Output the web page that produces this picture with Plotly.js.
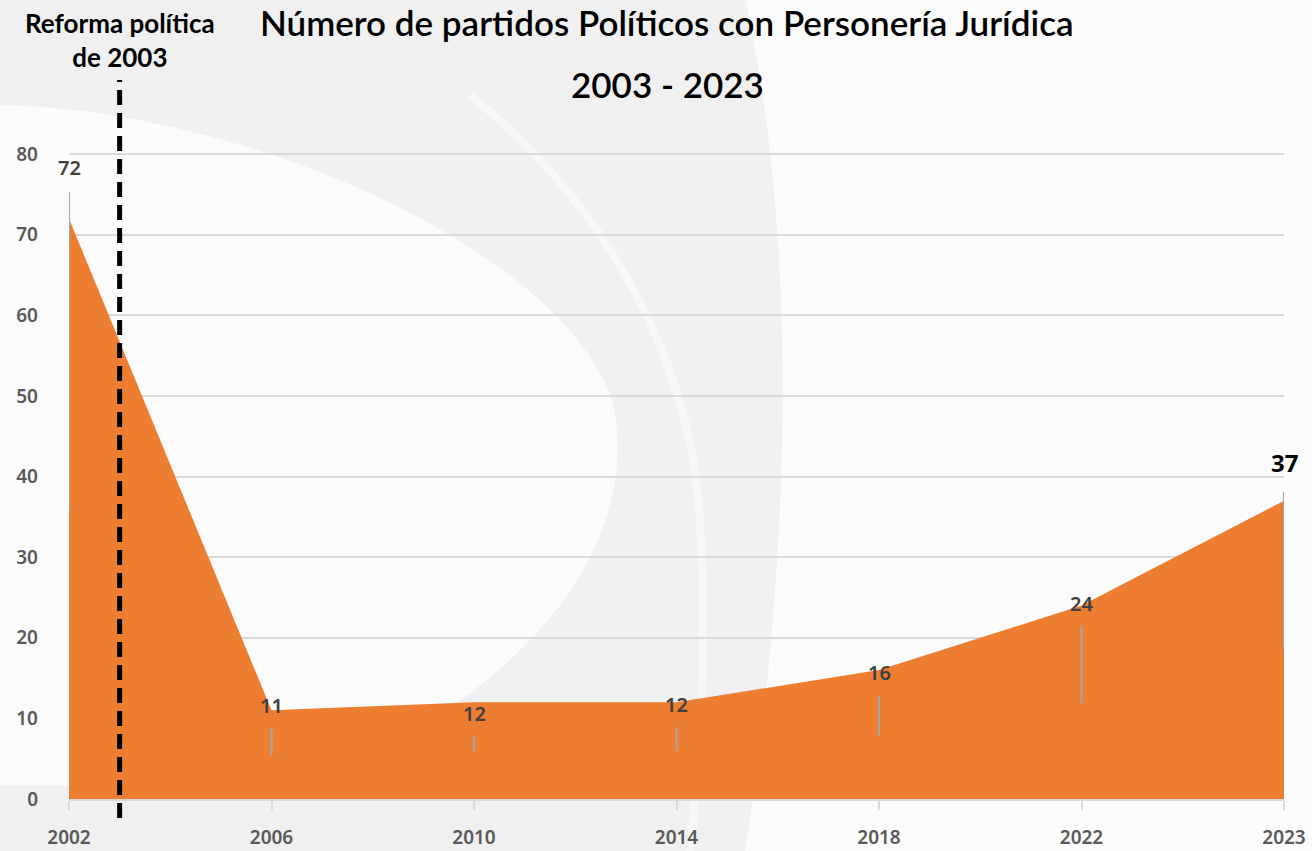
<!DOCTYPE html>
<html>
<head>
<meta charset="utf-8">
<script src="https://cdn.plot.ly/plotly-3.0.1.min.js"></script>
<style>
  html, body { margin: 0; padding: 0; background: #ffffff; }
  #chart { width: 1312px; height: 851px; }
</style>
</head>
<body>
<div id="chart"></div>
<script>
// ---- data ----
const years = ["2002", "2006", "2010", "2014", "2018", "2022", "2023"];
const partidos = [72, 11, 12, 12, 16, 24, 37];
const reformaYear = 2003;
// Excel-style leader lines under each label (value units)
const leaderTop = [75.3, 8.8, 7.8, 8.9, 12.8, 21.5, 38.1];
const leaderBottom = [35.8, 5.5, 6.0, 6.0, 7.9, 11.9, 18.5];

// ---- styles / positions ----
const labelShift = [51, 5, -11, -2, -2, 2, 38];
const W = 1312, H = 851;
const M = { l: 69, r: 28, t: 153, b: 52 };
const pw = W - M.l - M.r, ph = H - M.t - M.b;
function px(x) { return ((x - M.l) / pw).toFixed(4); }
function py(y) { return ((H - M.b - y) / ph).toFixed(4); }
function pathFromPixels(cmds) {
  return cmds.map(c => {
    const L = c[0];
    const pts = [];
    for (let i = 1; i < c.length; i += 2) pts.push(px(c[i]) + "," + py(c[i + 1]));
    return L + pts.join(" ");
  }).join(" ");
}

const n = years.length;
const catIndex = years.map((_, i) => i);

// position of reform year between first two categories
const y0 = +years[0], y1 = +years[1];
const reformaPos = (reformaYear - y0) / (y1 - y0);

const trace = {
  type: "scatter",
  mode: "lines",
  x: catIndex,
  y: partidos,
  fill: "tozeroy",
  fillcolor: "#ED7D31",
  line: { color: "#ED7D31", width: 0 },
  hoverinfo: "x+y",
  showlegend: false
};

const shapes = [];
// watermark (approximate background swoosh)
shapes.push({
  type: "path", xref: "paper", yref: "paper", layer: "below",
  path: pathFromPixels([["M", 0, 0], ["L", 745, 0], ["C", 790, 200, 800, 500, 745, 851], ["L", 0, 851], ["Z"]]),
  fillcolor: "#f0f0f0", line: { width: 0 }
});
shapes.push({
  type: "path", xref: "paper", yref: "paper", layer: "below",
  path: pathFromPixels([["M", 0, 105], ["C", 250, 110, 560, 250, 612, 400], ["C", 640, 520, 560, 640, 430, 720], ["C", 330, 780, 200, 788, 0, 785], ["Z"]]),
  fillcolor: "#fbfbfb", line: { width: 0 }
});
shapes.push({
  type: "path", xref: "paper", yref: "paper", layer: "below",
  path: pathFromPixels([["M", 470, 95], ["C", 600, 200, 690, 350, 700, 520], ["C", 708, 650, 700, 760, 690, 851]]),
  line: { color: "#f7f7f7", width: 8 }
});
shapes.push({
  type: "path", xref: "paper", yref: "paper", layer: "below",
  path: pathFromPixels([["M", 800, 0], ["L", 1312, 0], ["L", 1312, 851], ["L", 770, 851], ["C", 820, 500, 820, 200, 800, 0], ["Z"]]),
  fillcolor: "#fbfbfb", line: { width: 0 }
});

// leader lines
for (let i = 0; i < n; i++) {
  shapes.push({
    type: "line", xref: "x", yref: "y",
    x0: catIndex[i], x1: catIndex[i], y0: leaderBottom[i], y1: leaderTop[i],
    line: { color: "#a6a6a6", width: 2 }
  });
}
// reform dashed line
shapes.push({
  type: "line", xref: "x", yref: "paper",
  x0: reformaPos, x1: reformaPos, y0: +py(818), y1: +py(80),
  line: { color: "#000000", width: 5, dash: "15px,8px" }
});

const annotations = partidos.map((v, i) => {
  const last = i === n - 1;
  return {
    x: catIndex[i], y: v, xref: "x", yref: "y",
    xanchor: "center", yanchor: "middle",
    text: String(v),
    showarrow: false, yshift: labelShift[i],
    font: last ? { family: "Noto Sans", size: 24, weight: 700, color: "#000000" }
               : { family: "Noto Sans", size: 20, weight: 600, color: "#404040" }
  };
});
annotations.push({
  xref: "paper", yref: "paper",
  x: +px(120), y: +py(40), xanchor: "center", yanchor: "middle",
  text: "Reforma política<br>de 2003",
  showarrow: false, align: "center",
  font: { family: "Lato", size: 26, weight: 700, color: "#000000" }
});
annotations.push({
  xref: "paper", yref: "paper",
  x: +px(667), y: +py(22), xanchor: "center", yanchor: "middle",
  text: "Número de partidos Políticos con Personería Jurídica",
  showarrow: false,
  font: { family: "Lato", size: 35, weight: 600, color: "#000000" }
});
annotations.push({
  xref: "paper", yref: "paper",
  x: +px(667), y: +py(84), xanchor: "center", yanchor: "middle",
  text: "2003 - 2023",
  showarrow: false,
  font: { family: "Lato", size: 35, weight: 600, color: "#000000" }
});

const layout = {
  width: W, height: H,
  margin: M,
  paper_bgcolor: "#fbfbfb",
  plot_bgcolor: "rgba(0,0,0,0)",
  showlegend: false,
  xaxis: {
    type: "linear",
    range: [0, n - 1],
    tickvals: catIndex,
    ticktext: years,
    showgrid: false,
    zeroline: false,
    showline: true, linecolor: "#d9d9d9", linewidth: 2,
    ticks: "outside", ticklen: 9, tickcolor: "#d9d9d9", tickwidth: 2,
    ticklabelstandoff: 11,
    tickfont: { family: "Noto Sans", size: 19, weight: 600, color: "#595959" },
    fixedrange: true
  },
  yaxis: {
    range: [0, 80.15],
    dtick: 10,
    showgrid: true, gridcolor: "#d9d9d9", gridwidth: 2,
    zeroline: false,
    showline: false,
    ticks: "",
    ticklabelstandoff: 30,
    tickfont: { family: "Noto Sans", size: 19, weight: 600, color: "#595959" },
    fixedrange: true
  },
  shapes: shapes,
  annotations: annotations
};

Plotly.newPlot("chart", [trace], layout, { displayModeBar: false, staticPlot: true });
</script>
</body>
</html>
